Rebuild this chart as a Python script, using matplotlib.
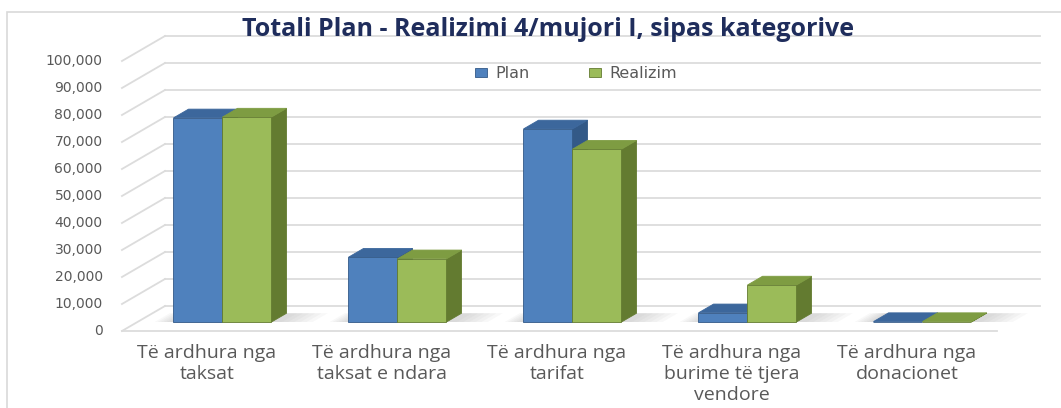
import matplotlib.pyplot as plt
from matplotlib.patches import Polygon, Rectangle

# data
categories = ["Të ardhura nga\ntaksat",
              "Të ardhura nga\ntaksat e ndara",
              "Të ardhura nga\ntarifat",
              "Të ardhura nga\nburime të tjera\nvendore",
              "Të ardhura nga\ndonacionet"]
plan = [75600, 24000, 71500, 3400, 150]
realizim = [75900, 23400, 64000, 13700, 150]
yticks = list(range(0, 100001, 10000))

W, H = 1061, 408
fig = plt.figure(figsize=(W / 100, H / 100), dpi=100)
ax = fig.add_axes([0, 0, 1, 1])
ax.axis('off')

# pseudo-3d layout (front plane pixels -> data units)
X0_PX, CAT_PX = 207, 175
Y0_PX, V_PX = 331, 27 / 10000
ax.set_xlim(-X0_PX / CAT_PX, (W - X0_PX) / CAT_PX)
ax.set_ylim(-(H - Y0_PX) / V_PX, Y0_PX / V_PX)
DX = 43 / CAT_PX
DY = 25 / V_PX


def proj(x, v, d):
    return (x + d * DX, v + d * DY)


grid_c = '#DCDCDC'
left, right = -0.486, len(categories) - 0.486

# walls / gridlines
for v in yticks:
    p0, p1 = proj(left, v, 0), proj(left, v, 1)
    ax.plot([p0[0], p1[0]], [p0[1], p1[1]], color=grid_c, lw=1.3, zorder=1)
    p2 = proj(right, v, 1)
    ax.plot([p1[0], p2[0]], [p1[1], p2[1]], color=grid_c, lw=1.3, zorder=1)
    ax.text(left - 0.11, v, f"{v:,}", ha='right', va='center',
            fontsize=10, color='#595959', family='DejaVu Sans')
f0, f1 = proj(left, 0, 0), proj(right, 0, 0)
ax.plot([f0[0], f1[0]], [f0[1], f1[1]], color=grid_c, lw=1.3, zorder=1)

# bars
colors = [('#4F81BD', '#3C679C', '#335987'),
          ('#9BBB59', '#7E9C42', '#637B30')]
w = 0.28
d0, d1 = 0.36, 0.71
for i in range(len(categories)):
    # soft shadow on the floor
    for k in range(6):
        ext = 0.04 + k * 0.035
        pts = [proj(i - w - ext * 0.5, 0, d0), proj(i + w + 0.02 + ext, 0, d0),
               proj(i + w + 0.02 + ext, 0, d1), proj(i - w - ext * 0.5, 0, d1)]
        ax.add_patch(Polygon(pts, closed=True, fc='#7F7F7F', ec='none',
                             alpha=0.05, zorder=2))
    for s, vals in enumerate([plan, realizim]):
        v = vals[i]
        x0 = i - w + s * w
        x1 = x0 + w
        front, top, side = colors[s]
        fr = [proj(x0, 0, d0), proj(x1, 0, d0), proj(x1, v, d0), proj(x0, v, d0)]
        tp = [proj(x0, v, d0), proj(x1, v, d0), proj(x1, v, d1), proj(x0, v, d1)]
        sd = [proj(x1, 0, d0), proj(x1, v, d0), proj(x1, v, d1), proj(x1, 0, d1)]
        z = 3 + i * 2 + s
        ax.add_patch(Polygon(sd, closed=True, fc=side, ec=side, lw=0.6, zorder=z))
        ax.add_patch(Polygon(tp, closed=True, fc=top, ec=top, lw=0.6, zorder=z))
        ax.add_patch(Polygon(fr, closed=True, fc=front, ec=side, lw=0.6, zorder=z))

# category labels
lab_v = (Y0_PX - 344) / V_PX
for i, c in enumerate(categories):
    ax.text(i, lab_v, c, ha='center', va='top', fontsize=14,
            color='#595959', family='Open Sans', linespacing=1.22)

# title
fig.text(548 / W, 1 - 29 / H, "Totali Plan - Realizimi 4/mujori I, sipas kategorive",
         ha='center', va='center', fontsize=18, fontweight='bold',
         color='#1F2D5C', family='Open Sans')

# legend
for j, (name, x_sq) in enumerate([("Plan", 475), ("Realizim", 589)]):
    fig.patches.append(Rectangle((x_sq / W, 1 - 77 / H), 12 / W, 9 / H,
                                 transform=fig.transFigure, fc=colors[j][0],
                                 ec=colors[j][2], lw=0.6))
    fig.text((x_sq + 20) / W, 1 - 73 / H, name, ha='left', va='center',
             fontsize=11.5, color='#595959', family='DejaVu Sans')

# chart border
fig.patches.append(Rectangle((7 / W, -0.05), 1.2, 1 - 12 / H + 0.05,
                             transform=fig.transFigure, fc='none',
                             ec='#D9D9D9', lw=1.2))

fig.savefig('out.png', dpi=100)
